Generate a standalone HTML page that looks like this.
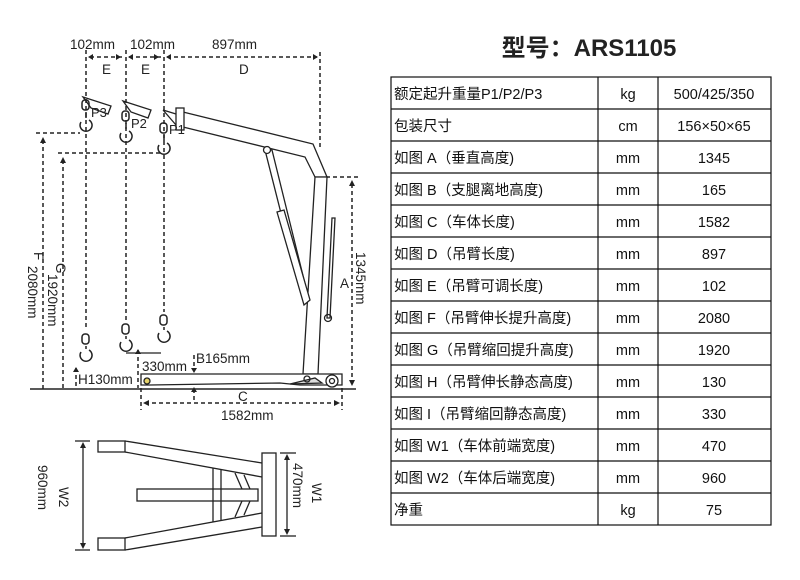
<!DOCTYPE html>
<html><head><meta charset="utf-8"><style>
body{margin:0;background:#fff;width:800px;height:580px;overflow:hidden}
svg{display:block}
text{font-family:"Liberation Sans","Noto Sans CJK SC",sans-serif;fill:#222}
.t{font-family:"Liberation Sans","Noto Sans CJK SC",sans-serif;font-size:14.5px;fill:#111}
</style></head><body>
<svg width="800" height="580" viewBox="0 0 800 580">
<g fill="none" stroke="#222" stroke-width="1.3">
<g stroke-dasharray="4,3" stroke-width="1.5">
<line x1="86" y1="50" x2="86" y2="330"/>
<line x1="126" y1="50" x2="126" y2="322"/>
<line x1="164" y1="50" x2="164" y2="312"/>
<line x1="320" y1="52" x2="320" y2="150"/>
<line x1="90" y1="57" x2="123" y2="57"/>
<line x1="129" y1="57" x2="161" y2="57"/>
<line x1="167" y1="57" x2="317" y2="57"/>
<line x1="36" y1="133" x2="80" y2="133"/>
<line x1="43" y1="140" x2="43" y2="389"/>
<line x1="58" y1="153" x2="160" y2="153"/>
<line x1="63" y1="160" x2="63" y2="389"/>
<line x1="326" y1="177" x2="358" y2="177"/>
<line x1="352" y1="184" x2="352" y2="385"/>
<line x1="141" y1="388" x2="141" y2="410"/>
<line x1="342" y1="388" x2="342" y2="410"/>
<line x1="145" y1="403" x2="338" y2="403"/>
<line x1="194" y1="389" x2="194" y2="403"/>
<line x1="194" y1="355" x2="194" y2="370"/>
<line x1="138" y1="350" x2="138" y2="388"/>
<line x1="76" y1="368" x2="76" y2="388"/>
</g>
<g fill="#222" stroke="none">
<path d="M88,57l5,-3v6z M121,57l-5,-3v6z M128,57l5,-3v6z M159,57l-5,-3v6z M166,57l5,-3v6z M318,57l-5,-3v6z"/>
<path d="M43,137l-3,6h6z M63,157l-3,6h6z M352,180l-3,6h6z M352,386l-3,-6h6z"/>
<path d="M143,403l6,-3v6z M340,403l-6,-3v6z M194,373l-3,-5h6z M194,387l-3,5h6z M138,349l-3,5h6z M76,367l-3,5h6z"/>
</g>
<line x1="30" y1="389" x2="356" y2="389" stroke-width="1.5"/>
<path d="M183,112 L313,144 L327,177 L315,177 L305,157 L183,127 Z" fill="#fff"/>
<rect x="176" y="108" width="8" height="22" fill="#fff"/>
<path d="M163,110 L176,114 M163,110 L176,125"/>
<path d="M315,177 L327,177 L318,374 L303,374 Z" fill="#fff"/>
<path d="M265,150 L272,150 L309,300 L304,304 Z" fill="#fff"/>
<path d="M277,212 L284,210 L310,300 L304,305 Z" fill="#fff"/>
<circle cx="267" cy="150" r="3.5" fill="#fff"/>
<path d="M332,218 L335,218 L330,318 L327,318 Z" fill="#fff"/>
<circle cx="328" cy="318" r="3.5"/>
<path d="M141,374 L342,374 L342,385 L300,385 L280,383 L150,385 L141,385 Z" fill="#fff"/>
<path d="M290,384 L315,378 L322,383 Z" fill="#ddd"/>
<circle cx="147" cy="381" r="3" fill="#e6d36a"/>
<circle cx="332" cy="381" r="6" fill="#fff"/>
<circle cx="332" cy="381" r="2.5"/>
<circle cx="307" cy="379" r="3"/>
<line x1="126" y1="353" x2="161" y2="353"/>
<path d="M83,97 L111,106 L108,114 L91,108 Z M123,101 L151,110 L148,118 L131,112 Z"/>
<g stroke-width="1.5">
<rect x="82" y="100" width="7" height="10" rx="3"/><path d="M86,112 v6 M81,122 a6,6 0 1 0 8,-2"/>
<rect x="122" y="111" width="7" height="10" rx="3"/><path d="M126,123 v6 M121,133 a6,6 0 1 0 8,-2"/>
<rect x="160" y="123" width="7" height="10" rx="3"/><path d="M164,135 v6 M159,145 a6,6 0 1 0 8,-2"/>
<rect x="82" y="334" width="7" height="10" rx="3"/><path d="M86,346 v3 M81,352 a6,6 0 1 0 8,-2"/>
<rect x="122" y="324" width="7" height="10" rx="3"/><path d="M126,336 v3 M121,342 a6,6 0 1 0 8,-2"/>
<rect x="160" y="315" width="7" height="10" rx="3"/><path d="M164,327 v3 M159,333 a6,6 0 1 0 8,-2"/>
</g>
<rect x="98" y="441" width="27" height="11"/>
<rect x="98" y="538" width="27" height="12"/>
<line x1="125" y1="441" x2="262" y2="463"/>
<line x1="125" y1="452" x2="262" y2="477"/>
<line x1="125" y1="538" x2="262" y2="513"/>
<line x1="125" y1="550" x2="262" y2="527"/>
<rect x="262" y="453" width="14" height="83"/>
<rect x="137" y="489" width="121" height="12"/>
<line x1="213" y1="468" x2="213" y2="522"/>
<line x1="221" y1="469" x2="221" y2="521"/>
<path d="M235,473 L242,489 M244,475 L250,489 M242,501 L235,517 M250,501 L244,515"/>
<line x1="75" y1="441" x2="90" y2="441"/>
<line x1="75" y1="550" x2="90" y2="550"/>
<line x1="83" y1="445" x2="83" y2="546"/>
<line x1="280" y1="453" x2="296" y2="453"/>
<line x1="280" y1="536" x2="296" y2="536"/>
<line x1="287" y1="457" x2="287" y2="532"/>
</g>
<g fill="#222"><path d="M83,442l-3,6h6z M83,549l-3,-6h6z M287,454l-3,6h6z M287,535l-3,-6h6z"/></g>
<g font-size="13.5">
<text x="70" y="49">102mm</text><text x="130" y="49">102mm</text><text x="212" y="49">897mm</text>
<text x="102" y="74">E</text><text x="141" y="74">E</text><text x="239" y="74">D</text>
<text x="91" y="117" font-size="13">P3</text><text x="131" y="128" font-size="13">P2</text><text x="169" y="134" font-size="13">P1</text>
<text x="340" y="288">A</text>
<text x="78" y="384">H130mm</text><text x="142" y="371">330mm</text><text x="196" y="363">B165mm</text>
<text x="238" y="401">C</text><text x="221" y="420">1582mm</text>
<text transform="translate(34,252) rotate(90)">F</text>
<text transform="translate(28,266) rotate(90)">2080mm</text>
<text transform="translate(56,263) rotate(90)">G</text>
<text transform="translate(48,274) rotate(90)">1920mm</text>
<text transform="translate(356,252) rotate(90)">1345mm</text>
<text transform="translate(38,465) rotate(90)">960mm</text>
<text transform="translate(59,487) rotate(90)">W2</text>
<text transform="translate(293,463) rotate(90)">470mm</text>
<text transform="translate(312,483) rotate(90)">W1</text>
</g>
<text x="589" y="56" text-anchor="middle" font-size="24" font-weight="bold" style="fill:#222">型号：ARS1105</text>
<g stroke="#111" stroke-width="1.2" fill="none">
<rect x="391" y="77" width="380" height="448"/>
<line x1="598" y1="77" x2="598" y2="525"/><line x1="658" y1="77" x2="658" y2="525"/>
<line x1="391" y1="109" x2="771" y2="109"/><line x1="391" y1="141" x2="771" y2="141"/>
<line x1="391" y1="173" x2="771" y2="173"/><line x1="391" y1="205" x2="771" y2="205"/>
<line x1="391" y1="237" x2="771" y2="237"/><line x1="391" y1="269" x2="771" y2="269"/>
<line x1="391" y1="301" x2="771" y2="301"/><line x1="391" y1="333" x2="771" y2="333"/>
<line x1="391" y1="365" x2="771" y2="365"/><line x1="391" y1="397" x2="771" y2="397"/>
<line x1="391" y1="429" x2="771" y2="429"/><line x1="391" y1="461" x2="771" y2="461"/>
<line x1="391" y1="493" x2="771" y2="493"/>
</g>
<g class="t">
<text class="t" x="394" y="99">额定起升重量P1/P2/P3</text><text class="t" x="628" y="99" text-anchor="middle">kg</text><text class="t" x="714" y="99" text-anchor="middle">500/425/350</text>
<text class="t" x="394" y="131">包装尺寸</text><text class="t" x="628" y="131" text-anchor="middle">cm</text><text class="t" x="714" y="131" text-anchor="middle">156×50×65</text>
<text class="t" x="394" y="163">如图 A（垂直高度)</text><text class="t" x="628" y="163" text-anchor="middle">mm</text><text class="t" x="714" y="163" text-anchor="middle">1345</text>
<text class="t" x="394" y="195">如图 B（支腿离地高度)</text><text class="t" x="628" y="195" text-anchor="middle">mm</text><text class="t" x="714" y="195" text-anchor="middle">165</text>
<text class="t" x="394" y="227">如图 C（车体长度)</text><text class="t" x="628" y="227" text-anchor="middle">mm</text><text class="t" x="714" y="227" text-anchor="middle">1582</text>
<text class="t" x="394" y="259">如图 D（吊臂长度)</text><text class="t" x="628" y="259" text-anchor="middle">mm</text><text class="t" x="714" y="259" text-anchor="middle">897</text>
<text class="t" x="394" y="291">如图 E（吊臂可调长度)</text><text class="t" x="628" y="291" text-anchor="middle">mm</text><text class="t" x="714" y="291" text-anchor="middle">102</text>
<text class="t" x="394" y="323">如图 F（吊臂伸长提升高度)</text><text class="t" x="628" y="323" text-anchor="middle">mm</text><text class="t" x="714" y="323" text-anchor="middle">2080</text>
<text class="t" x="394" y="355">如图 G（吊臂缩回提升高度)</text><text class="t" x="628" y="355" text-anchor="middle">mm</text><text class="t" x="714" y="355" text-anchor="middle">1920</text>
<text class="t" x="394" y="387">如图 H（吊臂伸长静态高度)</text><text class="t" x="628" y="387" text-anchor="middle">mm</text><text class="t" x="714" y="387" text-anchor="middle">130</text>
<text class="t" x="394" y="419">如图 I（吊臂缩回静态高度)</text><text class="t" x="628" y="419" text-anchor="middle">mm</text><text class="t" x="714" y="419" text-anchor="middle">330</text>
<text class="t" x="394" y="451">如图 W1（车体前端宽度)</text><text class="t" x="628" y="451" text-anchor="middle">mm</text><text class="t" x="714" y="451" text-anchor="middle">470</text>
<text class="t" x="394" y="483">如图 W2（车体后端宽度)</text><text class="t" x="628" y="483" text-anchor="middle">mm</text><text class="t" x="714" y="483" text-anchor="middle">960</text>
<text class="t" x="394" y="515">净重</text><text class="t" x="628" y="515" text-anchor="middle">kg</text><text class="t" x="714" y="515" text-anchor="middle">75</text>
</g>
</svg>
</body></html>
